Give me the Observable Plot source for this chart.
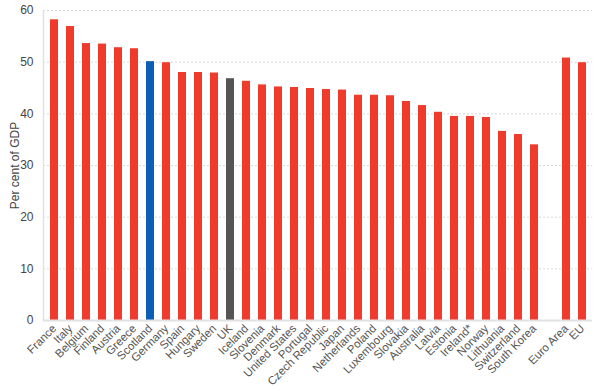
<!DOCTYPE html>
<html><head><meta charset="utf-8">
<script src="https://cdn.jsdelivr.net/npm/d3@7"></script>
<script src="https://cdn.jsdelivr.net/npm/@observablehq/plot@0.6"></script>
<style>
html,body{margin:0;padding:0;background:#fff;}
svg{font-family:"Liberation Sans",Arial,sans-serif;}
</style></head>
<body><div id="chart"></div>
<script>
const countries = ["France","Italy","Belgium","Finland","Austria","Greece","Scotland","Germany","Spain","Hungary","Sweden","UK","Iceland","Slovenia","Denmark","United States","Portugal","Czech Republic","Japan","Netherlands","Poland","Luxembourg","Slovakia","Australia","Latvia","Estonia","Ireland*","Norway","Lithuania","Switzerland","South Korea"," ","Euro Area","EU"];
const values = [58.2,56.9,53.6,53.5,52.8,52.6,50.1,49.9,48.0,48.0,47.9,46.8,46.3,45.6,45.2,45.1,44.9,44.7,44.6,43.6,43.6,43.5,42.4,41.6,40.3,39.5,39.5,39.3,36.6,36.0,34.0,null,50.8,49.9];
const highlight = {"Scotland":"#0a5fb4","UK":"#555555"};
const yTicks = [0,10,20,30,40,50,60];

const data = countries.map((c,i)=>({country:c,value:values[i],color:highlight[c]||"#ef3b2c"})).filter(d=>d.value!=null);

const chart = Plot.plot({
  width:600,height:391,
  marginTop:10,marginBottom:71,marginLeft:43,marginRight:8,
  style:{fontFamily:"Liberation Sans, Arial, sans-serif",fontSize:"11px",color:"#444"},
  x:{domain:countries,paddingInner:0.5,paddingOuter:0.25,label:null},
  y:{domain:[0,60],label:null},
  marks:[
    Plot.gridY(yTicks,{stroke:"#d8d8d8",strokeOpacity:1,strokeDasharray:"2,2"}),
    Plot.barY(data,{x:"country",y:"value",fill:"color"}),
    Plot.axisY({ticks:yTicks,tickSize:0,tickPadding:10,label:"Per cent of GDP",labelAnchor:"center",labelArrow:"none",labelOffset:33,fill:"#444",fontSize:12}),
    Plot.axisX({tickSize:0,tickPadding:6,tickRotate:-45,fill:"#555",fontSize:11.5}),
    Plot.frame({anchor:"left",stroke:"#e2e2e2",strokeWidth:1.5}),
    Plot.ruleY([0],{stroke:"#e2e2e2",strokeWidth:2})
  ]
});
document.getElementById("chart").append(chart);
</script></body></html>
